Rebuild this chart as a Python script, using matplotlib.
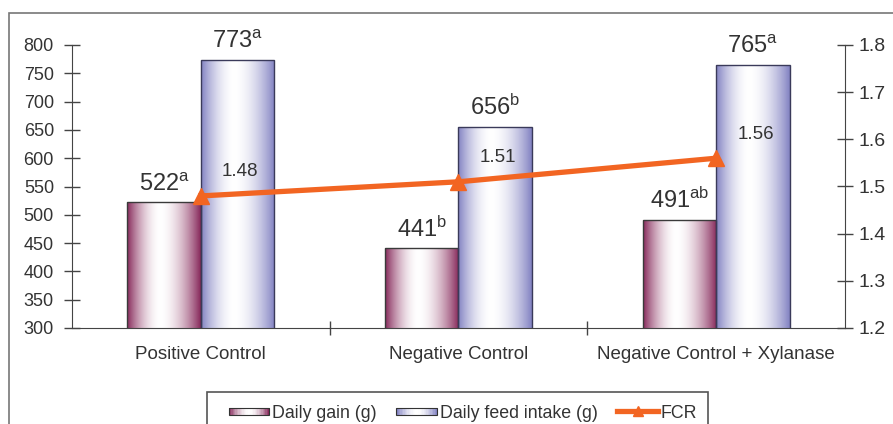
import numpy as np
import matplotlib
matplotlib.use("Agg")
import matplotlib.pyplot as plt
from matplotlib.patches import Rectangle, Patch
from matplotlib.lines import Line2D
from matplotlib.legend_handler import HandlerBase
from matplotlib.colors import to_rgb

plt.rcParams['font.family'] = ['Liberation Sans', 'DejaVu Sans']
plt.rcParams['mathtext.fontset'] = 'custom'
plt.rcParams['mathtext.rm'] = 'Liberation Sans'

categories = ["Positive Control", "Negative Control", "Negative Control + Xylanase"]
daily_gain = [522, 441, 491]
gain_letters = ["a", "b", "ab"]
feed_intake = [773, 656, 765]
feed_letters = ["a", "b", "a"]
fcr = [1.48, 1.51, 1.56]
left_ticks = [300, 350, 400, 450, 500, 550, 600, 650, 700, 750, 800]
right_ticks = [1.2, 1.3, 1.4, 1.5, 1.6, 1.7, 1.8]

GAIN_DARK = "#86285a"
FEED_DARK = "#8282c2"
ORANGE = "#f26522"
TEXT = "#333333"


def gradient_rgba(dark, n=256, center=0.45, power=1.8):
    x = np.linspace(0, 1, n)
    t = np.where(x < center, (center - x) / center, (x - center) / (1 - center))
    t = np.clip(t, 0, 1) ** power
    d = np.array(to_rgb(dark))
    w = np.array([1.0, 1.0, 1.0])
    cols = w[None, :] * (1 - t[:, None]) + d[None, :] * t[:, None]
    return cols


W, H = 893, 424
fig = plt.figure(figsize=(W / 100, H / 100), dpi=100)
ax = fig.add_axes([72 / W, 1 - 328 / H, (845 - 72) / W, (328 - 45) / H])
ax2 = ax.twinx()

x = np.arange(len(categories))
bw = 0.285
bars_g = ax.bar(x - bw / 2, daily_gain, bw, bottom=0, facecolor="none",
                edgecolor="#3a3a3a", linewidth=1.0, zorder=3)
bars_f = ax.bar(x + bw / 2, feed_intake, bw, bottom=0, facecolor="none",
                edgecolor="#3a3a5a", linewidth=1.0, zorder=3)

for bars, dark in ((bars_g, GAIN_DARK), (bars_f, FEED_DARK)):
    cols = gradient_rgba(dark)
    for b in bars:
        x0, w0, h0 = b.get_x(), b.get_width(), b.get_height()
        im = ax.imshow(cols[None, :, :], extent=[x0, x0 + w0, 300, h0],
                       aspect="auto", zorder=2, interpolation="bilinear")
        im.set_clip_path(b)

ax.set_xlim(-0.5, 2.5)
ax.set_ylim(300, 800)
ax.set_aspect("auto")
ax.set_yticks(left_ticks)
ax.set_xticks(x)
ax.set_xticklabels(categories, fontsize=13.5, color=TEXT)
ax.set_xticks([0.5, 1.5], minor=True)
ax.tick_params(axis="x", which="major", length=0, pad=13)
ax.tick_params(axis="x", which="minor", direction="inout", length=10, width=1, color="#444")
ax.tick_params(axis="y", direction="inout", length=12, width=1, color="#444",
               labelsize=13, labelcolor=TEXT, pad=7)
for s in ("top",):
    ax.spines[s].set_visible(False)
    ax2.spines[s].set_visible(False)
for s in ("left", "bottom", "right"):
    ax.spines[s].set_color("#444")
    ax2.spines[s].set_color("#444")
ax.spines["right"].set_visible(False)

ax2.plot(x, fcr, color=ORANGE, linewidth=3.8, marker="^", markersize=12,
         zorder=5, clip_on=False)
ax2.set_ylim(1.2, 1.8)
ax2.set_yticks(right_ticks)
ax2.set_yticklabels([f"{v:.1f}" for v in right_ticks])
ax2.tick_params(axis="y", direction="inout", length=12, width=1, color="#444",
                labelsize=14, labelcolor=TEXT, pad=4)
ax2.spines["left"].set_visible(False)
ax2.spines["bottom"].set_visible(False)
ax.set_zorder(1)
ax2.set_zorder(2)
ax2.patch.set_visible(False)

for i in range(len(categories)):
    ax.text(x[i] - bw / 2, daily_gain[i] + 12,
            r"$\mathregular{%d^{%s}}$" % (daily_gain[i], gain_letters[i]),
            ha="center", va="bottom", fontsize=17, color=TEXT, zorder=6)
    ax.text(x[i] + bw / 2, feed_intake[i] + 12,
            r"$\mathregular{%d^{%s}}$" % (feed_intake[i], feed_letters[i]),
            ha="center", va="bottom", fontsize=17, color=TEXT, zorder=6)
    ax2.text(x[i] + bw / 2 + 0.01, fcr[i] + 0.033, f"{fcr[i]:.2f}",
             ha="center", va="bottom", fontsize=13.5, color=TEXT, zorder=6)


class GradientHandler(HandlerBase):
    def __init__(self, dark):
        super().__init__()
        self.dark = dark

    def create_artists(self, legend, orig_handle, xdescent, ydescent, width,
                       height, fontsize, trans):
        n = 30
        cols = gradient_rgba(self.dark, n=n, center=0.5)
        arts = []
        for k in range(n):
            r = Rectangle((-xdescent + width * k / n, -ydescent + height * 0.2),
                          width / n + 0.3, height * 0.6, facecolor=cols[k],
                          edgecolor="none", transform=trans)
            arts.append(r)
        outline = Rectangle((-xdescent, -ydescent + height * 0.2), width,
                            height * 0.6, facecolor="none", edgecolor="#333",
                            linewidth=0.8, transform=trans)
        arts.append(outline)
        return arts


h_gain = Patch(label="Daily gain (g)")
h_feed = Patch(label="Daily feed intake (g)")
h_fcr = Line2D([], [], color=ORANGE, linewidth=3.8, marker="^", markersize=7,
               label="FCR")
leg = fig.legend(handles=[h_gain, h_feed, h_fcr],
                 handler_map={h_gain: GradientHandler(GAIN_DARK),
                              h_feed: GradientHandler(FEED_DARK)},
                 loc="upper center", bbox_to_anchor=(463 / W, 1 - 394 / H),
                 borderaxespad=0,
                 ncol=3, frameon=False, fontsize=12.8,
                 handlelength=2.3, handletextpad=0.15, columnspacing=1.1,
                 borderpad=0.6)
for t in leg.get_texts():
    t.set_color(TEXT)

# legend frame
fig.patches.append(Rectangle((207 / W, -0.05), (708 - 207) / W, 1 - 392 / H + 0.05,
                             transform=fig.transFigure, facecolor="none",
                             edgecolor="#555", linewidth=1.2, zorder=0))
# outer frame
fig.patches.append(Rectangle((9 / W, -0.05), 1.1, 1 - 13 / H + 0.05,
                             transform=fig.transFigure, facecolor="none",
                             edgecolor="#777", linewidth=1.2, zorder=0))

fig.savefig("out.png", dpi=100)
